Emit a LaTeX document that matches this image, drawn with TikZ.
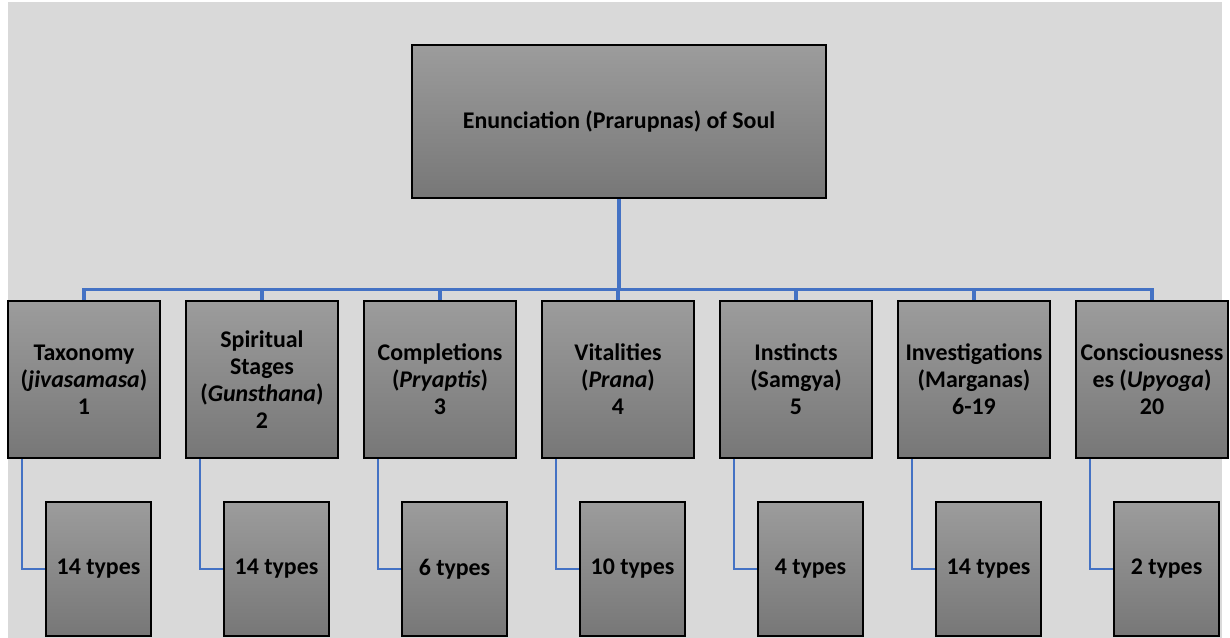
\documentclass[tikz,border=0pt]{standalone}
\usepackage{fontspec}
\setmainfont{Carlito}
\usetikzlibrary{positioning}
\definecolor{bggray}{HTML}{D9D9D9}
\definecolor{boxtop}{HTML}{9C9C9C}
\definecolor{boxbottom}{HTML}{777777}
\definecolor{linkblue}{HTML}{4472C4}

\begin{document}
\begin{tikzpicture}[x=0.02cm,y=-0.02cm,
    box/.style={draw=black,line width=1.4pt,top color=boxtop,bottom color=boxbottom,
        align=center,font=\fontsize{13.6}{15.4}\selectfont\bfseries,inner sep=1pt},
    rootbox/.style={box,minimum width=8.28cm,minimum height=3.06cm},
    childbox/.style={box,minimum width=3.04cm,minimum height=3.14cm},
    subbox/.style={box,minimum width=2.1cm,minimum height=2.68cm},
    mainlink/.style={draw=linkblue,line width=1.9pt},
    sublink/.style={draw=linkblue,line width=1.2pt}]
        % Draw page and gray background
        \useasboundingbox (0,0) rectangle (1230,638);
        \fill[bggray] (8,2) rectangle (1222,638);
        % Draw root box
        \node[rootbox] (soul) at (619,121.5) {Enunciation (Prarupnas) of Soul};
        % Draw the seven enunciations and their types
        \foreach \txt/\sub [count=\i from 0] in {
            {Taxonomy\\(\textit{jivasamasa})\\1}/14 types,
            {Spiritual\\Stages\\(\textit{Gunsthana})\\2}/14 types,
            {Completions\\(\textit{Pryaptis})\\3}/6 types,
            {Vitalities\\(\textit{Prana})\\4}/10 types,
            {Instincts\\(Samgya)\\5}/4 types,
            {Investigations\\(Marganas)\\6-19}/14 types,
            {Consciousness\\es (\textit{Upyoga})\\20}/2 types}
        {
            \node[childbox] (c\i) at (84+178*\i,379.5) {\txt};
            \node[subbox] (s\i) at (98.5+178*\i,569) {\sub};
            \draw[mainlink] (soul.south) -- ++(0,90) -| (c\i.north);
            \draw[sublink] (c\i.south west) ++(15,0) |- (s\i.west);
        }
    \end{tikzpicture}
\end{document}
